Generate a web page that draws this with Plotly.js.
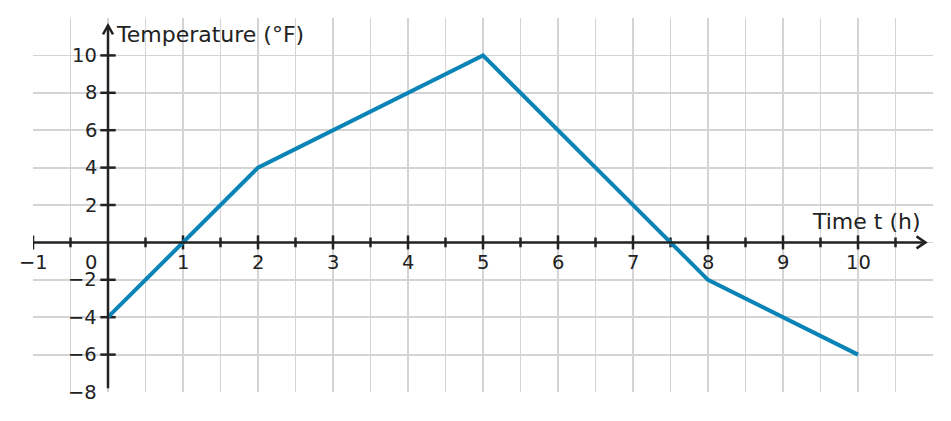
<!DOCTYPE html>
<html>
<head>
<meta charset="utf-8">
<script src="https://cdn.plot.ly/plotly-3.0.1.min.js"></script>
<style>
  html, body { margin: 0; padding: 0; background: #fff; }
  #chart { width: 951px; height: 421px; }
</style>
</head>
<body>
<div id="chart"></div>
<script>
// temperature over time
var timeH = [0, 2, 5, 8, 10];
var tempF = [-4, 4, 10, -2, -6];

// axis ticks and labels
var xMajorTicks = [-1, 1, 2, 3, 4, 5, 6, 7, 8, 9, 10];
var xMinorTicks = [-0.5, 0.5, 1.5, 2.5, 3.5, 4.5, 5.5, 6.5, 7.5, 8.5, 9.5, 10.5];
var xLabelVals = [-1, 0, 1, 2, 3, 4, 5, 6, 7, 8, 9, 10];
var yTicks = [-6, -4, -2, 2, 4, 6, 8, 10];
var yLabelVals = [-8, -6, -4, -2, 2, 4, 6, 8, 10];

var ink = "#222222";
var blue = "#0a84b6";
var font = "DejaVu Sans";

function fmt(v) { return v < 0 ? "\u2212" + Math.abs(v) : String(v); }

var traces = [
  {
    x: xMajorTicks, y: xMajorTicks.map(function() { return 0; }),
    mode: "markers", hoverinfo: "skip",
    marker: { symbol: "line-ns", size: 10, line: { color: ink, width: 2.5 } }
  },
  {
    x: xMinorTicks, y: xMinorTicks.map(function() { return 0; }),
    mode: "markers", hoverinfo: "skip",
    marker: { symbol: "line-ns", size: 7, line: { color: ink, width: 2.5 } }
  },
  {
    x: yTicks.map(function() { return 0; }), y: yTicks,
    mode: "markers", hoverinfo: "skip",
    marker: { symbol: "line-ew", size: 11, line: { color: ink, width: 2.5 } }
  },
  {
    x: timeH, y: tempF,
    mode: "lines", hoverinfo: "x+y",
    line: { color: blue, width: 4 }
  }
];

var annotations = [];
xLabelVals.forEach(function(v) {
  annotations.push({
    x: v, y: 0, xref: "x", yref: "y", text: fmt(v), showarrow: false,
    xanchor: "center", yanchor: "top", yshift: -7, xshift: v === 0 ? -17 : 0,
    font: { family: font, size: 19.5, color: ink }
  });
});
yLabelVals.forEach(function(v) {
  annotations.push({
    x: 0, y: v, xref: "x", yref: "y", text: fmt(v), showarrow: false,
    xanchor: "right", yanchor: "middle", xshift: -9,
    font: { family: font, size: 19.5, color: ink }
  });
});
annotations.push({
  x: 0, y: 11.1, xref: "x", yref: "y", text: "Temperature (\u00b0F)", showarrow: false,
  xanchor: "left", yanchor: "middle", xshift: 6,
  font: { family: font, size: 22, color: ink }
});
annotations.push({
  x: 10.87, y: 1.1, xref: "x", yref: "y", text: "Time t (h)", showarrow: false,
  xanchor: "right", yanchor: "middle",
  font: { family: font, size: 22, color: ink }
});

var shapes = [
  { type: "line", xref: "x", yref: "y", x0: -1, x1: 10.9, y0: 0, y1: 0, line: { color: ink, width: 2.5 } },
  { type: "line", xref: "x", yref: "y", x0: 0, x1: 0, y0: -7.8, y1: 11.6, line: { color: ink, width: 2.5 } },
  { type: "line", xref: "x", yref: "y", x0: 0, x1: 0, y0: -8, y1: -8, line: { color: "#bbbbbb", width: 2 } },
  {
    type: "path", xref: "x", yref: "y", xsizemode: "pixel", ysizemode: "pixel",
    xanchor: 10.9, yanchor: 0, path: "M -9 -6 L 0 0 L -9 6",
    line: { color: ink, width: 2.5 }
  },
  {
    type: "path", xref: "x", yref: "y", xsizemode: "pixel", ysizemode: "pixel",
    xanchor: 0, yanchor: 11.6, path: "M -5 -9 L 0 0 L 5 -9",
    line: { color: ink, width: 2.5 }
  }
];

var layout = {
  width: 951, height: 421,
  margin: { l: 33, r: 18, t: 18, b: 29 },
  paper_bgcolor: "#ffffff", plot_bgcolor: "#ffffff",
  showlegend: false,
  xaxis: {
    range: [-1, 11], tick0: -1, dtick: 0.5, showgrid: true, gridcolor: "#d4d4d4", gridwidth: 1.8,
    zeroline: false, showticklabels: false, ticks: "", showline: false, fixedrange: true
  },
  yaxis: {
    range: [-8, 12], tick0: -8, dtick: 2, showgrid: true, gridcolor: "#d4d4d4", gridwidth: 1.8,
    zeroline: false, showticklabels: false, ticks: "", showline: false, fixedrange: true
  },
  shapes: shapes,
  annotations: annotations
};

Plotly.newPlot("chart", traces, layout, { displayModeBar: false, staticPlot: true });
</script>
</body>
</html>
